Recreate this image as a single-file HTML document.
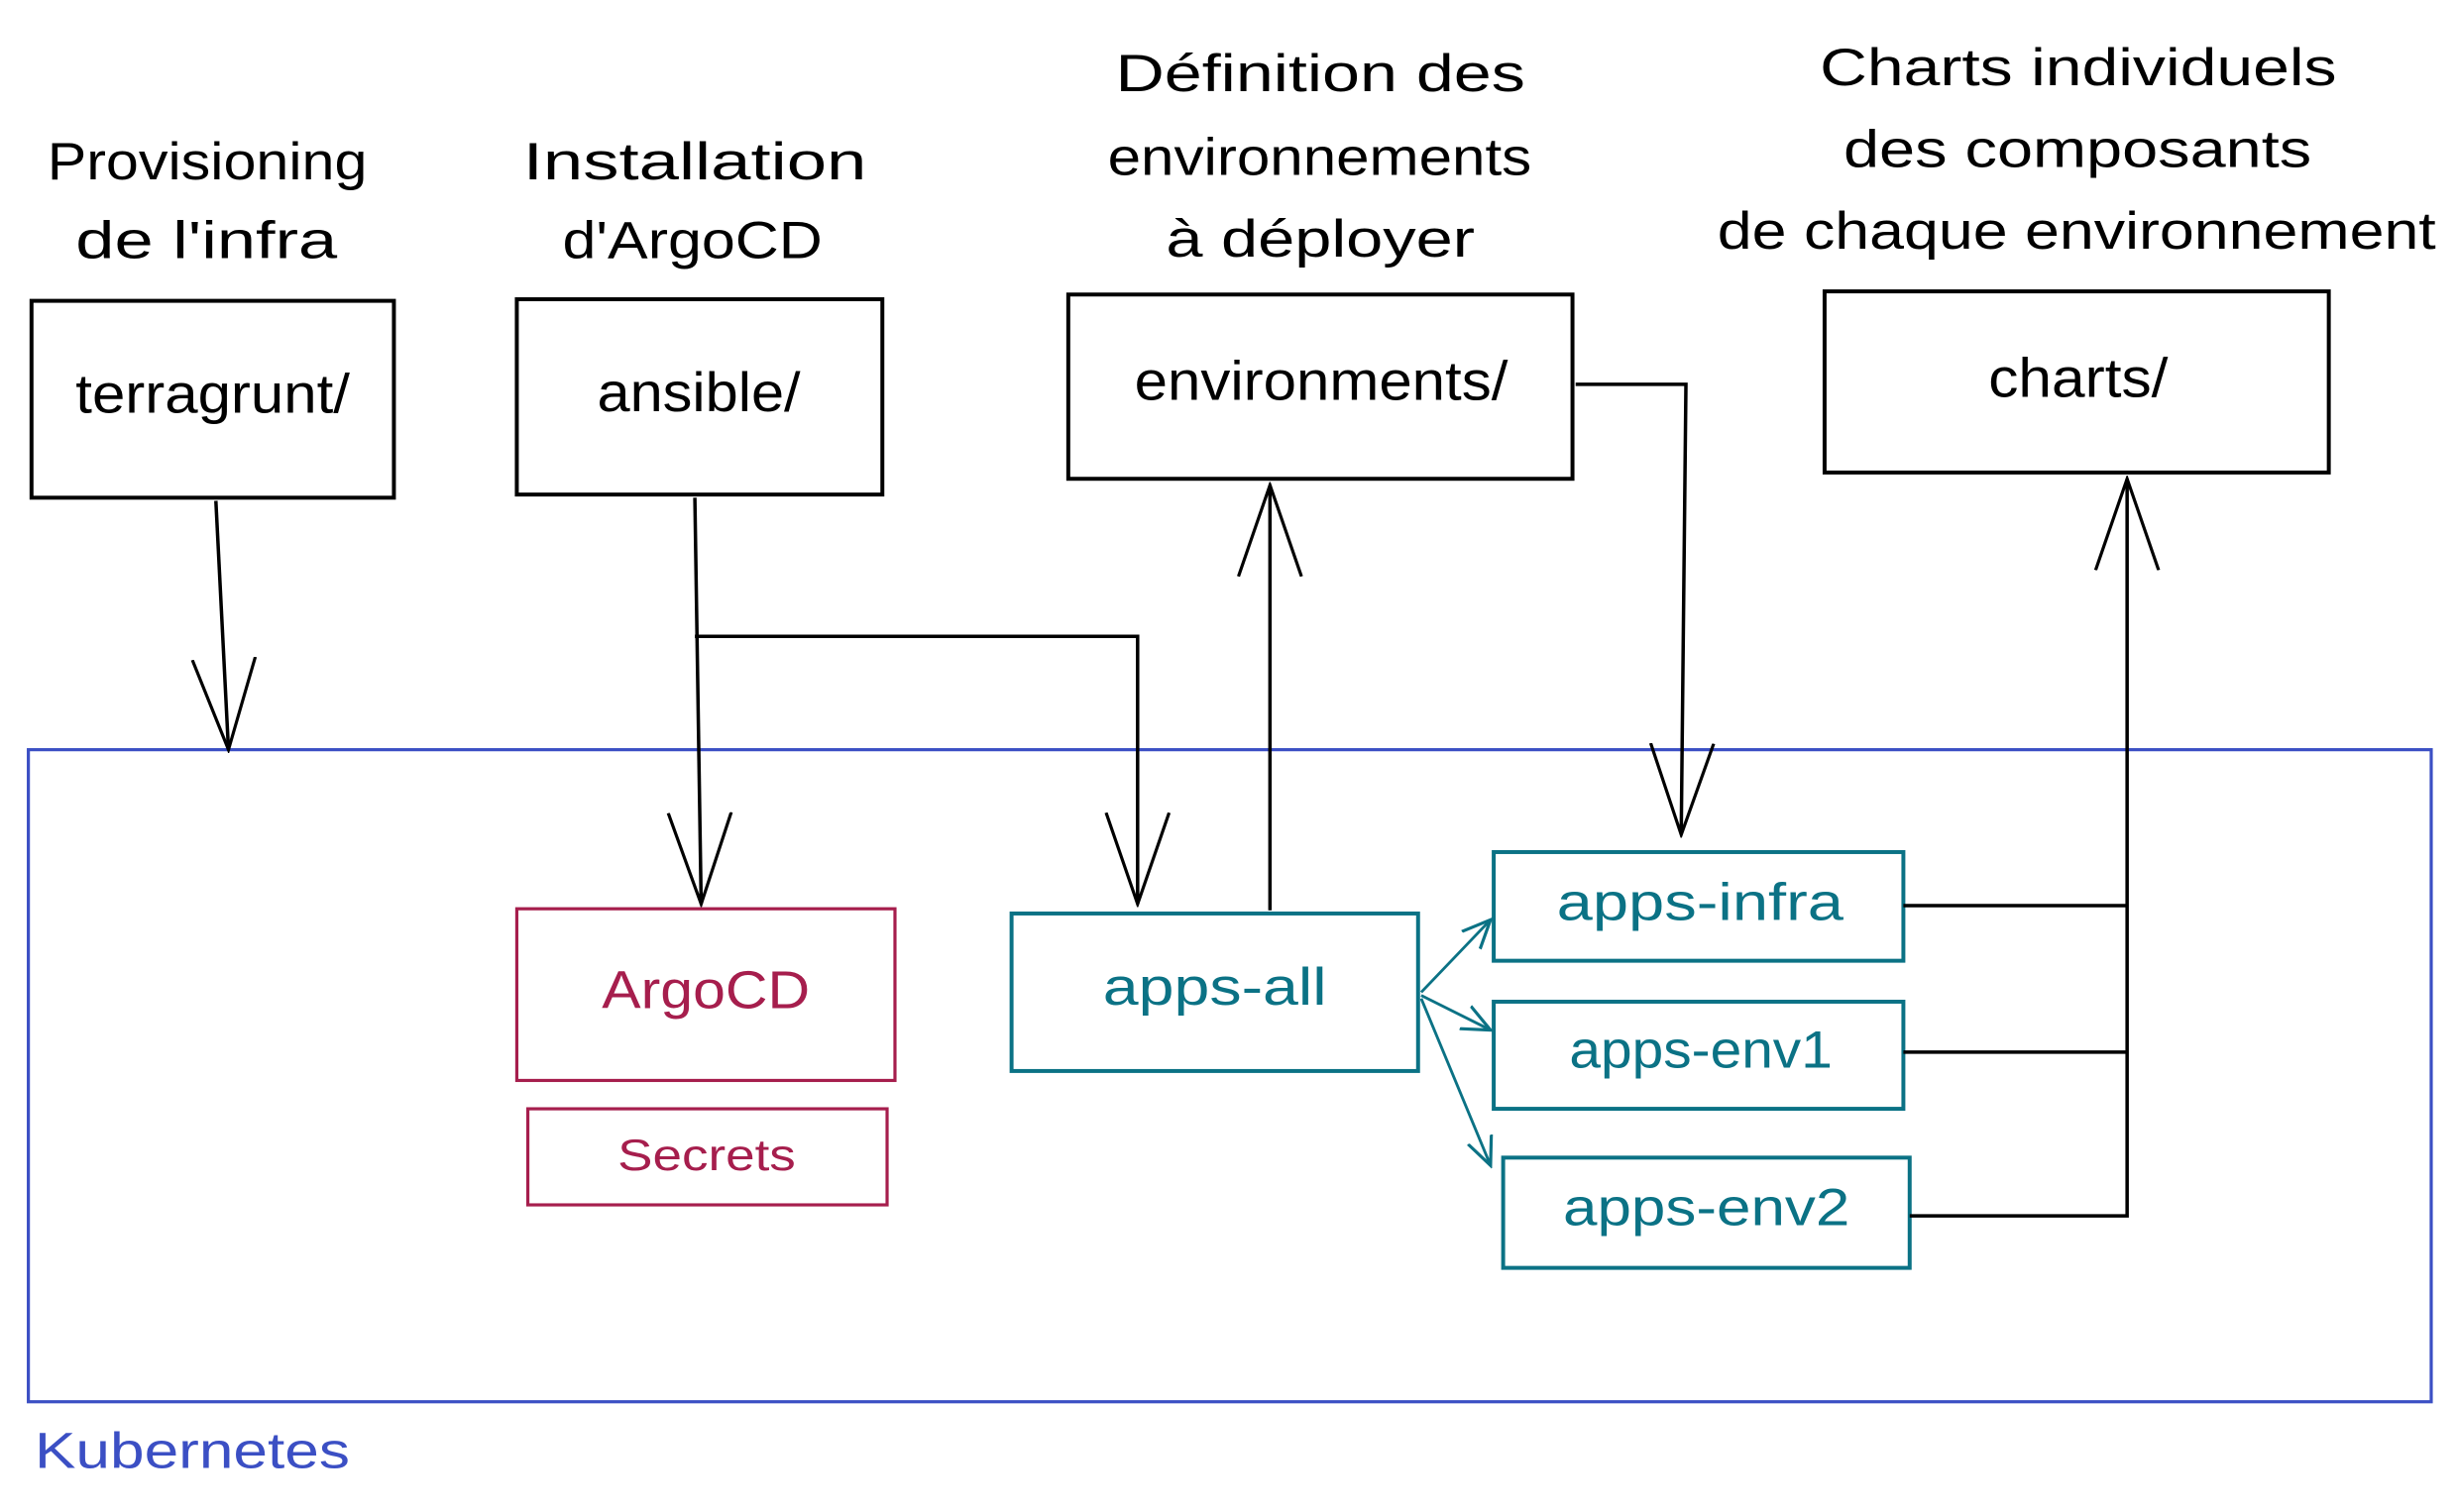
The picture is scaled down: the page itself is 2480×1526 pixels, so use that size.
<!DOCTYPE html>
<html><head><meta charset="utf-8"><style>
html,body{margin:0;padding:0;background:#fff;}
svg{display:block;}
text{font-family:"Liberation Sans",sans-serif;}
</style></head><body>
<svg width="2480" height="1526" viewBox="0 0 1560 960" preserveAspectRatio="none" xmlns="http://www.w3.org/2000/svg">
<defs>
<marker id="at" viewBox="0 0 20 20" refX="18" refY="10" markerWidth="20" markerHeight="20" markerUnits="userSpaceOnUse" orient="auto"><path d="M0,2 L18,10 L0,18" fill="none" stroke="#0b7285" stroke-width="2"/></marker>
<marker id="ab2" viewBox="0 0 60 44" refX="58" refY="22" markerWidth="60" markerHeight="44" markerUnits="userSpaceOnUse" orient="auto"><path d="M0,2 L58,22 L0,42" fill="none" stroke="#000" stroke-width="2"/></marker>
</defs>
<g font-size="33" fill="#000" lengthAdjust="spacingAndGlyphs">
<text x="30" y="114" textLength="203" lengthAdjust="spacingAndGlyphs">Provisioning</text>
<text x="48" y="164" textLength="166" lengthAdjust="spacingAndGlyphs">de l'infra</text>
<text x="332" y="114" textLength="218" lengthAdjust="spacingAndGlyphs">Installation</text>
<text x="357" y="164" textLength="165" lengthAdjust="spacingAndGlyphs">d'ArgoCD</text>
<text x="708" y="58" textLength="260" lengthAdjust="spacingAndGlyphs">Définition des</text>
<text x="703" y="111" textLength="269" lengthAdjust="spacingAndGlyphs">environnements</text>
<text x="740" y="163" textLength="196" lengthAdjust="spacingAndGlyphs">à déployer</text>
<text x="1155" y="54" textLength="328" lengthAdjust="spacingAndGlyphs">Charts individuels</text>
<text x="1170" y="106" textLength="297" lengthAdjust="spacingAndGlyphs">des composants</text>
<text x="1090" y="158" textLength="456" lengthAdjust="spacingAndGlyphs">de chaque environnement</text>
</g>
<g fill="none" stroke="#000" stroke-width="2.5">
<rect x="20" y="191" width="230" height="125"/>
<rect x="328" y="190" width="232" height="124"/>
<rect x="678" y="187" width="320" height="117"/>
<rect x="1158" y="185" width="320" height="115"/>
</g>
<g font-size="35" fill="#000">
<text x="48" y="262" textLength="174" lengthAdjust="spacingAndGlyphs">terragrunt/</text>
<text x="379" y="261" textLength="129" lengthAdjust="spacingAndGlyphs">ansible/</text>
<text x="720" y="254" textLength="237" lengthAdjust="spacingAndGlyphs">environments/</text>
<text x="1262" y="252" textLength="114" lengthAdjust="spacingAndGlyphs">charts/</text>
</g>
<rect x="18" y="476" width="1525" height="414" fill="none" stroke="#3b4fc4" stroke-width="2"/>
<text x="22" y="932" font-size="32" fill="#3b4fc4" textLength="200" lengthAdjust="spacingAndGlyphs">Kubernetes</text>
<g fill="none" stroke="#a61e4d" stroke-width="2">
<rect x="328" y="577" width="240" height="109"/>
<rect x="335" y="704" width="228" height="61"/>
</g>
<text x="382" y="640" font-size="34" fill="#a61e4d" textLength="132" lengthAdjust="spacingAndGlyphs">ArgoCD</text>
<text x="392" y="743" font-size="28" fill="#a61e4d" textLength="113" lengthAdjust="spacingAndGlyphs">Secrets</text>
<g fill="none" stroke="#0b7285" stroke-width="2.5">
<rect x="642" y="580" width="258" height="100"/>
<rect x="948" y="541" width="260" height="69"/>
<rect x="948" y="636" width="260" height="68"/>
<rect x="954" y="735" width="258" height="70"/>
</g>
<g font-size="33" fill="#0b7285">
<text x="700" y="638" textLength="142" lengthAdjust="spacingAndGlyphs">apps-all</text>
<text x="988" y="584" textLength="182" lengthAdjust="spacingAndGlyphs">apps-infra</text>
<text x="996" y="678" textLength="167" lengthAdjust="spacingAndGlyphs">apps-env1</text>
<text x="992" y="778" textLength="182" lengthAdjust="spacingAndGlyphs">apps-env2</text>
</g>
<g fill="none" stroke="#0b7285" stroke-width="1.8">
<path d="M902,630 L946,584" marker-end="url(#at)"/>
<path d="M902,632 L946,654" marker-end="url(#at)"/>
<path d="M902,634 L946,740" marker-end="url(#at)"/>
</g>
<g fill="none" stroke="#000" stroke-width="2.2">
<path d="M137,318 L145,476" marker-end="url(#ab2)"/>
<path d="M441,316 L445,574" marker-end="url(#ab2)"/>
<path d="M441,404 L722,404 L722,574" marker-end="url(#ab2)"/>
<path d="M806,578 L806,308" marker-end="url(#ab2)"/>
<path d="M1000,244 L1070,244 L1067,530" marker-end="url(#ab2)"/>
<path d="M1208,575 L1350,575 M1208,668 L1350,668 M1212,772 L1350,772 L1350,304" marker-end="url(#ab2)"/>
</g>
</svg>
</body></html>
